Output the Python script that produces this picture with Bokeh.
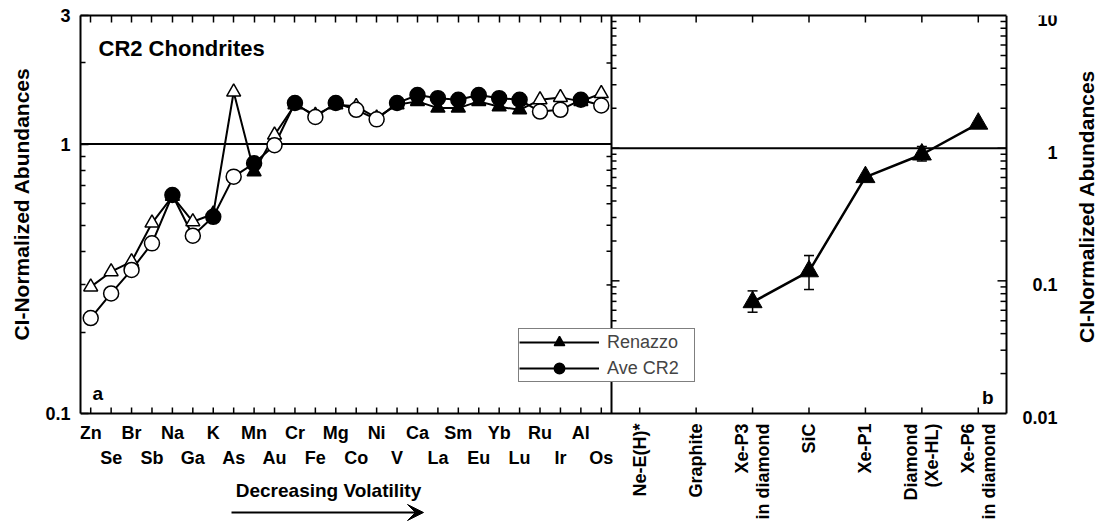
import math
from bokeh.plotting import figure
from bokeh.models import (Range1d, LogScale, LinearAxis, FixedTicker, Title,
                          ColumnDataSource, Label, LabelSet, Legend, LegendItem,
                          Whisker, TeeHead, Arrow, VeeHead)
from bokeh.core.properties import value
from bokeh.embed import file_html
from bokeh.resources import INLINE

FONT = "Liberation Sans"
NaN = float("nan")

# ---------------- data ----------------
elements = ["Zn", "Se", "Br", "Sb", "Na", "Ga", "K", "As", "Mn", "Au", "Cr", "Fe", "Mg",
            "Co", "Ni", "V", "Ca", "La", "Sm", "Eu", "Yb", "Lu", "Ru", "Ir", "Al", "Os"]
renazzo = [0.295, 0.336, 0.366, 0.509, 0.640, 0.515, 0.550, 1.56, 0.789, 1.08, 1.40, 1.28, 1.40,
           1.38, 1.25, 1.40, 1.44, 1.36, 1.36, 1.44, 1.375, 1.34, 1.46, 1.49, 1.44, 1.54]
ave_cr2 = [0.226, 0.279, 0.341, 0.428, 0.647, 0.457, 0.537, 0.757, 0.848, 0.99, 1.42, 1.26, 1.42,
           1.34, 1.235, 1.42, 1.52, 1.48, 1.46, 1.52, 1.48, 1.46, 1.32, 1.34, 1.46, 1.39]
solid = [False, False, False, False, True, False, True, False, True, False, True, False, True,
         False, False, True, True, True, True, True, True, True, False, False, True, False]

components = ["Ne-E(H)*", "Graphite", "Xe-P3\nin diamond", "SiC", "Xe-P1",
              "Diamond\n(Xe-HL)", "Xe-P6\nin diamond"]
renazzo_b = [NaN, NaN, 0.069, 0.118, 0.605, 0.896, 1.53]
err_low = [NaN, NaN, 0.058, 0.086, NaN, 0.80, NaN]
err_high = [NaN, NaN, 0.084, 0.155, NaN, 1.03, NaN]

left_ticks = [0.1, 1, 3]
left_minor = [0.2, 0.3, 0.4, 0.5, 0.6, 0.7, 0.8, 0.9, 2]
right_ticks = [0.01, 0.1, 1, 10]
right_minor = [0.02, 0.03, 0.04, 0.05, 0.06, 0.07, 0.08, 0.09,
               0.2, 0.3, 0.4, 0.5, 0.6, 0.7, 0.8, 0.9,
               2, 3, 4, 5, 6, 7, 8, 9]
y_title = "CI-Normalized Abundances"

# ---------------- layout ----------------
W, H = 1101, 525
ML, MT = 80, 15
FW = W - ML                 # frame width (extends under the right-hand labels)
FH = H - MT                 # frame height (extends under the tick-label area)
PANEL_H = 398               # height of the plotting panels
LEFT_PX, RIGHT_PX = 531, 395
nl, nr = len(elements), len(components)
ul = LEFT_PX / nl
ur = RIGHT_PX / nr
xr = Range1d(-0.5, -0.5 + FW / ul)
xb = Range1d(-0.5 - LEFT_PX / ur, -0.5 + (FW - LEFT_PX) / ur)
x_panel_end = -0.5 + (LEFT_PX + RIGHT_PX) / ul      # right edge of panel b in panel-a units
below_frac = (FH - PANEL_H) / PANEL_H
ya_lo = left_ticks[0] / (left_ticks[-1] / left_ticks[0]) ** below_frac
yb_lo = right_ticks[0] / (right_ticks[-1] / right_ticks[0]) ** below_frac

p = figure(width=W, height=H, x_range=xr, y_range=Range1d(ya_lo, left_ticks[-1]),
           y_axis_type="log", x_axis_location=None, output_backend="svg", toolbar_location=None,
           min_border_left=ML, min_border_right=0, min_border_top=MT, min_border_bottom=0,
           background_fill_color="white", border_fill_color="white")
p.extra_x_ranges = {"b": xb}
p.extra_y_ranges = {"b": Range1d(yb_lo, right_ticks[-1])}
p.extra_y_scales = {"b": LogScale()}
p.xgrid.visible = False
p.ygrid.visible = False
p.outline_line_color = None

BLK = dict(line_color="black")


def style_axis(ax, tick_in=7, minor_in=0):
    ax.axis_line_width = 2
    ax.axis_line_color = "black"
    ax.major_tick_in = tick_in
    ax.major_tick_out = 0
    ax.minor_tick_in = minor_in
    ax.minor_tick_out = 0
    ax.major_tick_line_width = 1.5
    ax.minor_tick_line_width = 1.5
    ax.major_label_text_font = FONT
    ax.major_label_text_font_style = "bold"
    ax.major_label_text_font_size = "18px"
    ax.major_label_text_color = "black"


# left y axis (panel a)
ya = p.yaxis[0]
ya.ticker = FixedTicker(ticks=left_ticks, minor_ticks=left_minor)
ya.bounds = (left_ticks[0], left_ticks[-1])
ya.major_label_overrides = {t: str(t) for t in left_ticks}
style_axis(ya, tick_in=8, minor_in=5)
ya.major_label_standoff = 10
p.add_layout(Title(text=y_title, align="right", offset=52, vertical_align="middle",
                   standoff=17, text_font=FONT, text_font_style="bold",
                   text_font_size="21px", text_color="black"), "left")

# top axis (ticks only)
xt = LinearAxis(ticker=FixedTicker(ticks=list(range(nl))),
                major_label_overrides={i: "" for i in range(nl)})
style_axis(xt, tick_in=7)
xt.bounds = (xr.start, x_panel_end)
xt.major_label_text_font_size = "0px"
xt.major_label_standoff = 0
p.add_layout(xt, "above")

# ---------------- panel borders and reference lines ----------------
p.segment(x0=[xr.start], x1=[x_panel_end], y0=[left_ticks[0]], y1=[left_ticks[0]],
          line_width=2, **BLK)
p.segment(x0=[nl - 0.5], x1=[nl - 0.5], y0=[left_ticks[0]], y1=[left_ticks[-1]],
          line_width=2, **BLK)
p.segment(x0=[nr - 0.5], x1=[nr - 0.5], y0=[right_ticks[0]], y1=[right_ticks[-1]],
          line_width=2, x_range_name="b", y_range_name="b", **BLK)
p.segment(x0=[xr.start], x1=[nl - 0.5], y0=[1], y1=[1], line_width=2, **BLK)
p.segment(x0=[-0.5], x1=[nr - 0.5], y0=[1], y1=[1], line_width=2,
          x_range_name="b", y_range_name="b", **BLK)

RB = dict(x_range_name="b", y_range_name="b", length_units="screen", line_width=1.5, **BLK)
# ticks on the divider: panel a (pointing left), panel b (pointing right)
p.ray(x=[nl - 0.5] * len(left_minor), y=left_minor, length=5, angle=math.pi,
      length_units="screen", line_width=1.5, **BLK)
p.ray(x=[-0.5] * len(right_minor), y=right_minor, length=5, angle=0, **RB)
p.ray(x=[-0.5] * 2, y=right_ticks[1:3], length=8, angle=0, **RB)
# right edge of panel b (pointing left)
p.ray(x=[nr - 0.5] * len(right_minor), y=right_minor, length=6, angle=math.pi, **RB)
p.ray(x=[nr - 0.5] * 2, y=right_ticks[1:3], length=9, angle=math.pi, **RB)
# category ticks (bottom of both panels, top of panel b)
p.ray(x=list(range(nl)), y=[left_ticks[0]] * nl, length=6, angle=math.pi / 2,
      length_units="screen", line_width=1.5, **BLK)
p.ray(x=list(range(nr)), y=[right_ticks[0]] * nr, length=6, angle=math.pi / 2, **RB)
p.ray(x=list(range(nr)), y=[right_ticks[-1]] * nr, length=7, angle=-math.pi / 2, **RB)

# ---------------- panel a data ----------------
xs = list(range(nl))
src_r = ColumnDataSource(dict(x=xs, y=renazzo))
src_c = ColumnDataSource(dict(x=xs, y=ave_cr2))
r_line = p.line("x", "y", source=src_r, line_width=2, **BLK)
c_line = p.line("x", "y", source=src_c, line_width=2, **BLK)


def subset(vals, flag):
    return ColumnDataSource(dict(x=[i for i in xs if solid[i] == flag],
                                 y=[vals[i] for i in xs if solid[i] == flag]))


p.scatter("x", "y", source=subset(renazzo, False), marker="triangle", size=14,
          fill_color="white", line_width=1.5, **BLK)
r_tri = p.scatter("x", "y", source=subset(renazzo, True), marker="triangle", size=14,
                  fill_color="black", line_width=1.5, **BLK)
p.scatter("x", "y", source=subset(ave_cr2, False), marker="circle", size=15,
          fill_color="white", line_width=1.5, **BLK)
c_circ = p.scatter("x", "y", source=subset(ave_cr2, True), marker="circle", size=15,
                   fill_color="black", line_width=1.5, **BLK)

# ---------------- panel b data ----------------
src_b = ColumnDataSource(dict(x=list(range(nr)), y=renazzo_b))
p.line("x", "y", source=src_b, line_width=2.5, x_range_name="b", y_range_name="b", **BLK)
p.scatter("x", "y", source=src_b, marker="triangle", size=19, fill_color="black",
          x_range_name="b", y_range_name="b", **BLK)
eidx = [i for i in range(nr) if not math.isnan(err_low[i])]
wsrc = ColumnDataSource(dict(x=eidx, lo=[err_low[i] for i in eidx], hi=[err_high[i] for i in eidx]))
p.add_layout(Whisker(base="x", lower="lo", upper="hi", source=wsrc, dimension="height",
                     line_color="black", line_width=1.5,
                     upper_head=TeeHead(size=10, line_width=1.5, line_color="black"),
                     lower_head=TeeHead(size=10, line_width=1.5, line_color="black"),
                     x_range_name="b", y_range_name="b"))

# ---------------- tick and category labels ----------------
LS = dict(text_font=value(FONT), text_font_style="bold", text_font_size="18px",
          text_color="black")
even = [i for i in xs if i % 2 == 0]
odd = [i for i in xs if i % 2 == 1]
p.add_layout(LabelSet(x="x", y="y", text="t", y_offset=-25, text_align="center",
                      text_baseline="alphabetic", source=ColumnDataSource(
    dict(x=even, y=[left_ticks[0]] * len(even), t=[elements[i] for i in even])), **LS))
p.add_layout(LabelSet(x="x", y="y", text="t", y_offset=-50, text_align="center",
                      text_baseline="alphabetic", source=ColumnDataSource(
    dict(x=odd, y=[left_ticks[0]] * len(odd), t=[elements[i] for i in odd])), **LS))

# panel b category labels: each line of a label is its own rotated text, top-aligned
LINE_SEP = 21
cx, cy, ct, cdx = [], [], [], []
for k, name in enumerate(components):
    lines = name.split("\n")
    for j, ln in enumerate(lines):
        cx.append(k)
        cy.append(right_ticks[0])
        ct.append(ln)
        cdx.append((j - (len(lines) - 1) / 2) * LINE_SEP)
p.add_layout(LabelSet(x="x", y="y", text="t", x_offset="dx", y_offset=-10,
                      source=ColumnDataSource(dict(x=cx, y=cy, t=ct, dx=cdx)),
                      x_range_name="b", y_range_name="b", angle=math.pi / 2,
                      text_align="right", text_baseline="middle", **LS))
p.add_layout(LabelSet(x="x", y="y", text="t", x_offset=51, y_offset=-4, source=ColumnDataSource(
    dict(x=[nr - 0.5] * len(right_ticks), y=right_ticks, t=[str(t) for t in right_ticks])),
    x_range_name="b", y_range_name="b", text_align="right", text_baseline="middle", **LS))

# ---------------- other texts ----------------
TS = dict(x_units="screen", y_units="screen", text_font=FONT, text_font_style="bold",
          text_color="black")
p.add_layout(Label(x=18, y=FH - 33, text="CR2 Chondrites", text_font_size="22px",
                   text_baseline="alphabetic", **TS))
p.add_layout(Label(x=12, y=FH - 378, text="a", text_font_size="19px",
                   text_baseline="alphabetic", **TS))
p.add_layout(Label(x=913, y=FH - 382, text="b", text_font_size="19px",
                   text_baseline="alphabetic", text_align="right", **TS))
p.add_layout(Label(x=248, y=FH - 475, text="Decreasing Volatility", text_font_size="19px",
                   text_baseline="alphabetic", text_align="center", **TS))
p.add_layout(Arrow(x_start=151, y_start=FH - 497, x_end=343, y_end=FH - 497,
                   start_units="screen", end_units="screen", line_width=2, line_color="black",
                   end=VeeHead(size=16, fill_color="black", line_color="black")))
p.add_layout(Label(x=1006, y=FH - 191, text=y_title, angle=math.pi / 2, text_font_size="21px",
                   text_baseline="middle", text_align="center", **TS))

# ---------------- legend ----------------
legend = Legend(items=[LegendItem(label="Renazzo", renderers=[r_line, r_tri]),
                       LegendItem(label="Ave CR2", renderers=[c_line, c_circ])],
                location=(438, FH - 367), orientation="vertical", padding=0, spacing=0,
                glyph_width=80, glyph_height=26, label_standoff=8, label_width=87,
                label_height=26, label_text_font=FONT, label_text_font_size="18px",
                border_line_color="black", border_line_width=1.5, margin=0,
                background_fill_color="white", background_fill_alpha=1)
p.add_layout(legend)

open("out.html", "w").write(file_html(p, INLINE))
